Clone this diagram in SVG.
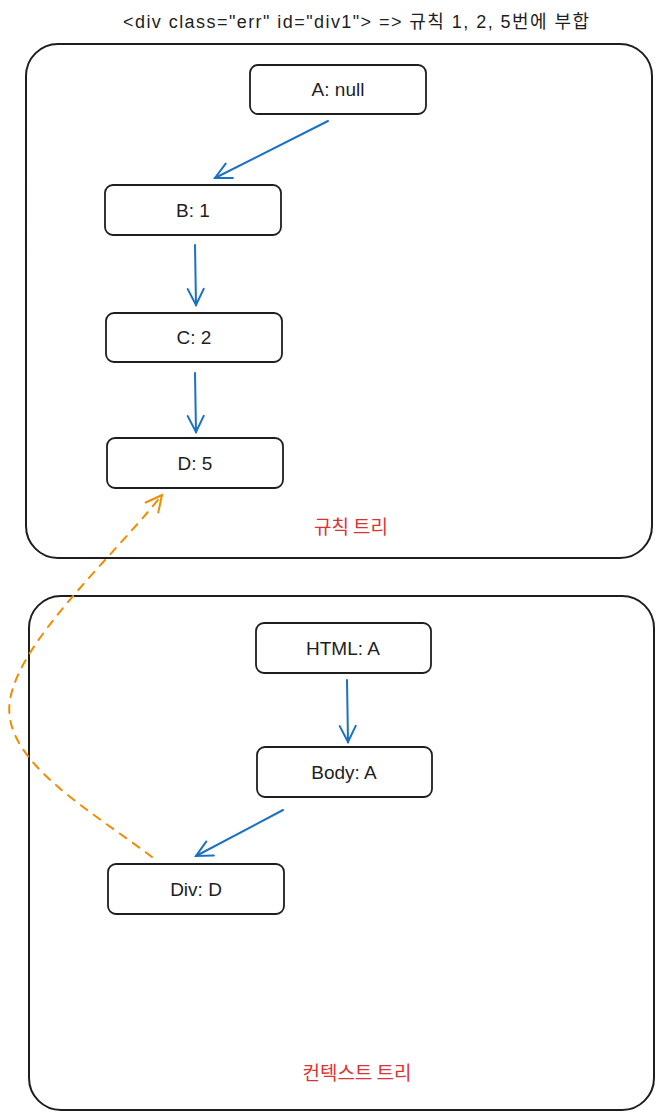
<svg xmlns="http://www.w3.org/2000/svg" width="664" height="1120" viewBox="0 0 664 1120">
<defs>
<style>
.frame{fill:#fff;stroke:#1e1e1e;stroke-width:2}
.node{fill:#fff;stroke:#1e1e1e;stroke-width:1.8}
.lbl{font-family:"Liberation Sans","Noto Sans CJK KR",sans-serif;font-size:19px;fill:#1e1e1e;text-anchor:middle;dominant-baseline:central}
.title{font-family:"Liberation Sans","Noto Sans CJK KR",sans-serif;font-size:18px;fill:#1e1e1e;text-anchor:middle}
.red{font-family:"Noto Sans CJK KR",sans-serif;font-size:19px;fill:#e03131;text-anchor:middle}
.blue{fill:none;stroke:#1971c2;stroke-width:2;stroke-linecap:round}
.orange{fill:none;stroke:#f08c00;stroke-width:2;stroke-dasharray:8 8;stroke-linecap:round}
</style>
<marker id="ab" viewBox="0 0 20 20" refX="18" refY="10" markerWidth="20" markerHeight="20" markerUnits="userSpaceOnUse" orient="auto">
<path d="M2,2 L18,10 L2,18" fill="none" stroke="#1971c2" stroke-width="2" stroke-linecap="round"/>
</marker>
<marker id="ao" viewBox="0 0 20 20" refX="18" refY="10" markerWidth="20" markerHeight="20" markerUnits="userSpaceOnUse" orient="auto">
<path d="M2,2 L18,10 L2,18" fill="none" stroke="#f08c00" stroke-width="2" stroke-linecap="round"/>
</marker>
</defs>
<rect width="664" height="1120" fill="#fff"/>
<text class="title" x="356" y="28" textLength="466" lengthAdjust="spacing">&lt;div class="err" id="div1"&gt; =&gt; 규칙 1, 2, 5번에 부합</text>
<g id="rule-tree">
<rect class="frame" x="26" y="44" width="626" height="514" rx="32"/>
<text class="red" x="351" y="534">규칙 트리</text>
</g>
<g id="context-tree">
<rect class="frame" x="29" y="596" width="625" height="514" rx="32"/>
<text class="red" x="357" y="1080">컨텍스트 트리</text>
</g>
<g id="node-a"><rect class="node" x="250" y="65" width="176" height="49" rx="8"/><text class="lbl" x="338" y="89">A: null</text></g>
<g id="node-b"><rect class="node" x="105" y="185" width="176" height="50" rx="8"/><text class="lbl" x="193" y="210">B: 1</text></g>
<g id="node-c"><rect class="node" x="106" y="313" width="176" height="49" rx="8"/><text class="lbl" x="194" y="337">C: 2</text></g>
<g id="node-d"><rect class="node" x="107" y="438" width="176" height="50" rx="8"/><text class="lbl" x="195" y="463">D: 5</text></g>
<g id="node-html"><rect class="node" x="256" y="623" width="175" height="50" rx="8"/><text class="lbl" x="343" y="648">HTML: A</text></g>
<g id="node-body"><rect class="node" x="257" y="747" width="175" height="50" rx="8"/><text class="lbl" x="344" y="772">Body: A</text></g>
<g id="node-div"><rect class="node" x="108" y="864" width="176" height="50" rx="8"/><text class="lbl" x="196" y="889">Div: D</text></g>
<g id="connectors">
<path class="blue" d="M328,121 L215,178" marker-end="url(#ab)"/>
<path class="blue" d="M195,245 L196,305" marker-end="url(#ab)"/>
<path class="blue" d="M195,373 L196,432" marker-end="url(#ab)"/>
<path class="blue" d="M347,680 L348,742" marker-end="url(#ab)"/>
<path class="blue" d="M283,810 L196,856" marker-end="url(#ab)"/>
<path class="orange" d="M152,857 C90,810 0,760 10,700 C20,640 110,560 162,495" marker-end="url(#ao)"/>
</g>
</svg>
